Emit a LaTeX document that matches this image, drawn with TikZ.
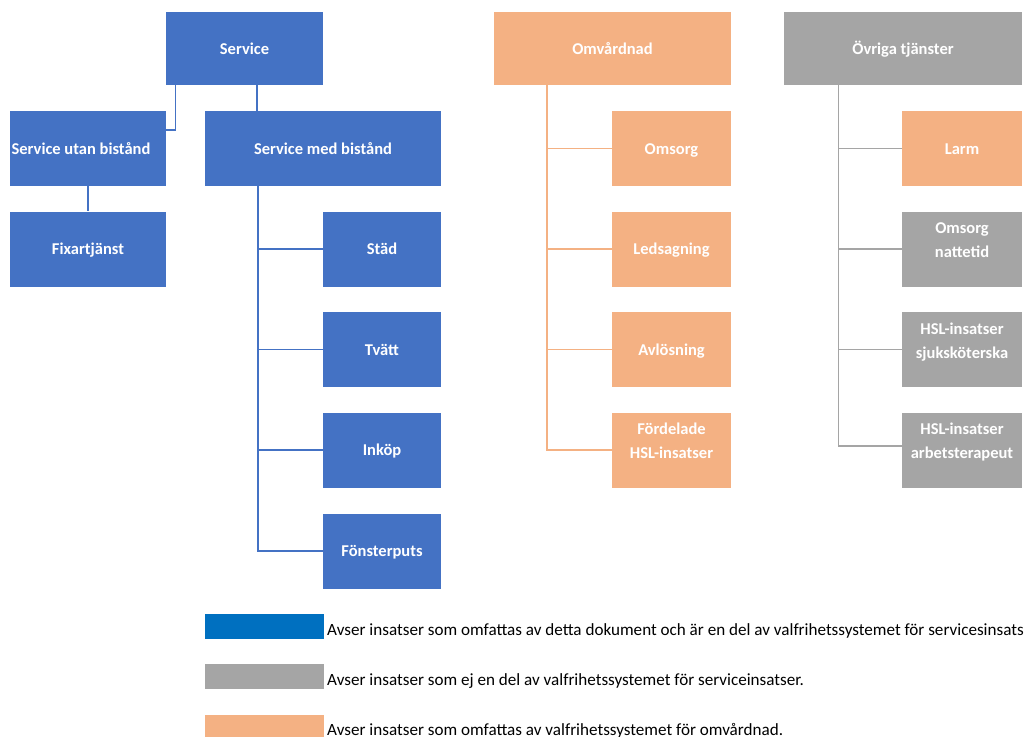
\documentclass[tikz,border=0pt]{standalone}
\usepackage{fontspec}
\setmainfont{Carlito}
\definecolor{bx}{HTML}{4472C4}
\definecolor{org}{HTML}{F4B183}
\definecolor{gr}{HTML}{A5A5A5}
\definecolor{legblue}{HTML}{0070C0}
\begin{document}
\begin{tikzpicture}[x=1pt,y=-1pt,
  box/.style={rectangle, draw=none, inner sep=0pt, text=white,
    font=\bfseries\fontsize{16.5}{24}\selectfont, align=center,
    text height=11pt, text depth=0pt, minimum height=75pt},
  top/.style={box, minimum height=73pt},
  two/.style={text height=35pt, text depth=18pt},
  bluebox/.style={box, fill=bx},
  orgbox/.style={box, fill=org},
  grbox/.style={box, fill=gr},
  bline/.style={draw=bx, line width=1.3pt},
  oline/.style={draw=org, line width=1.3pt},
  gline/.style={draw=gr, line width=1.3pt},
  legtext/.style={anchor=base west, inner sep=0pt, text=black,
    font=\fontsize{17.1}{20}\selectfont},
  legbox/.style={rectangle, draw=none, inner sep=0pt, minimum width=119pt}
]
\useasboundingbox (0,0) rectangle (1024,736);

% Service column
\node[bluebox, top, minimum width=157pt] (service) at (244.5,48.5) {Service};
\node[bluebox, minimum width=156pt] (utan) at (88,148.5) {Service utan bistånd\hspace*{14pt}};
\node[bluebox, minimum width=236pt] (med) at (323,148.5) {Service med bistånd};
\node[bluebox, minimum width=156pt] (fixar) at (88,249) {Fixartjänst};
\node[bluebox, minimum width=118pt] (stad) at (382,249) {Städ};
\node[bluebox, minimum width=118pt] (tvatt) at (382,349.5) {Tvätt};
\node[bluebox, minimum width=118pt] (inkop) at (382,450) {Inköp};
\node[bluebox, minimum width=118pt] (fonster) at (382,551) {Fönsterputs};

% Omvårdnad column
\node[orgbox, top, minimum width=237pt] (omv) at (612.5,48.5) {Omvårdnad};
\node[orgbox, minimum width=119pt] (omsorg) at (671.5,148.5) {Omsorg};
\node[orgbox, minimum width=119pt] (leds) at (671.5,249) {Ledsagning};
\node[orgbox, minimum width=119pt] (avl) at (671.5,349.5) {Avlösning};
\node[orgbox, two, minimum width=119pt] (ford) at (671.5,450) {Fördelade\\HSL-insatser};

% Övriga column
\node[grbox, top, minimum width=238pt] (ovr) at (903,48.5) {Övriga tjänster};
\node[orgbox, minimum width=120pt] (larm) at (962,148.5) {Larm};
\node[grbox, two, minimum width=120pt] (natt) at (962,249) {Omsorg\\nattetid};
\node[grbox, two, minimum width=120pt] (sjuk) at (962,349.5) {HSL-insatser\\sjuksköterska};
\node[grbox, two, minimum width=120pt] (arb) at (962,450) {HSL-insatser\\arbetsterapeut};

% connectors: Service
\draw[bline] ([xshift=10pt]service.south west) |- ([yshift=18.5pt]utan.east);
\draw[bline] ([xshift=12.5pt]service.south) -- ([xshift=12.5pt]service.south |- med.north);
\draw[bline] (utan.south) -- (fixar.north);
\coordinate (mbus) at ([xshift=-65pt]med.south);
\draw[bline] (mbus) |- (fonster.west);
\draw[bline] (mbus |- stad.west) -- (stad.west);
\draw[bline] (mbus |- tvatt.west) -- (tvatt.west);
\draw[bline] (mbus |- inkop.west) -- (inkop.west);

% connectors: Omvårdnad
\coordinate (obus) at ([xshift=-65.5pt]omv.south);
\draw[oline] (obus) |- (ford.west);
\draw[oline] (obus |- omsorg.west) -- (omsorg.west);
\draw[oline] (obus |- leds.west) -- (leds.west);
\draw[oline] (obus |- avl.west) -- (avl.west);

% connectors: Övriga
\coordinate (gbus) at ([xshift=-64.5pt]ovr.south);
\draw[gline] (gbus) |- ([yshift=4pt]arb.west);
\draw[gline] (gbus |- larm.west) -- (larm.west);
\draw[gline] (gbus |- natt.west) -- (natt.west);
\draw[gline] (gbus |- sjuk.west) -- (sjuk.west);

% legend
\node[legbox, fill=legblue, minimum height=25pt] (lb) at (264.5,626.5) {};
\node[legbox, fill=gr, minimum height=25pt] (lg) at (264.5,676.5) {};
\node[legbox, fill=org, minimum height=22pt] (lo) at (264.5,726) {};
\node[legtext] (tb) at (327,635) {Avser insatser som omfattas av detta dokument och är en del av valfrihetssystemet för servicesinsats};
\node[legtext] (tg) at (327,685) {Avser insatser som ej en del av valfrihetssystemet för serviceinsatser.};
\node[legtext] (to) at (327,735) {Avser insatser som omfattas av valfrihetssystemet för omvårdnad.};
\end{tikzpicture}
\end{document}
